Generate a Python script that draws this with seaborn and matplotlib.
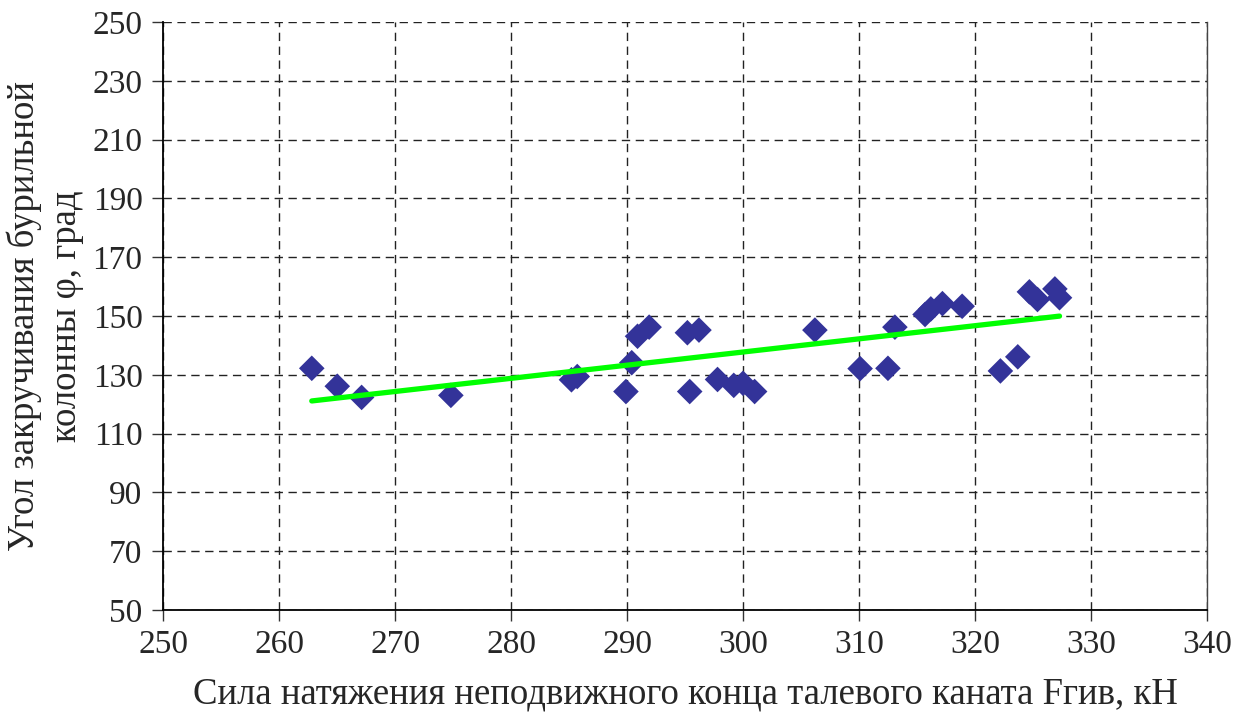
import seaborn as sns
import matplotlib.pyplot as plt
import pandas as pd

# Data
force_kn = [262.8, 265.0, 267.1, 274.8, 285.2, 285.7, 289.9, 290.4, 290.9, 291.9,
            295.2, 296.2, 295.4, 297.8, 299.2, 300.0, 301.0, 306.2, 310.1, 312.5,
            313.1, 315.7, 316.2, 317.2, 318.9, 322.2, 323.7, 324.7, 325.4, 326.9,
            327.3]
angle_deg = [132.2, 126.1, 122.3, 123.0, 128.3, 129.4, 124.3, 134.1, 143.1, 146.2,
             144.3, 145.2, 124.3, 128.4, 126.4, 127.1, 124.3, 145.2, 132.1, 132.2,
             146.2, 150.5, 152.4, 154.2, 153.3, 131.3, 136.1, 158.2, 155.6, 159.2,
             156.2]

x_ticks = list(range(250, 341, 10))
y_ticks = list(range(50, 251, 20))

x_label = "Сила натяжения неподвижного конца талевого каната Fгив, кН"
y_label = "Угол закручивания бурильной\nколонны φ, град"

df = pd.DataFrame({"force": force_kn, "angle": angle_deg})

sns.set_style("white")
plt.rcParams["font.family"] = ["Liberation Serif", "DejaVu Serif"]

fig = plt.figure(figsize=(12.5, 7.2), dpi=100)
ax = fig.add_axes([0.1307, 0.1528, 0.8347, 0.8167])

sns.regplot(
    data=df, x="force", y="angle", ax=ax, ci=None, marker="D",
    scatter_kws={"s": 170, "color": "#333399", "alpha": 1.0,
                 "edgecolors": "none", "zorder": 3},
    line_kws={"color": "#00ff00", "linewidth": 3.8, "zorder": 4},
)

ax.set_xlim(250, 340)
ax.set_ylim(50, 250)
ax.set_xticks(x_ticks)
ax.set_yticks(y_ticks)
ax.grid(True, color="#222222", linestyle=(0, (6, 4)), linewidth=1.0)
ax.set_axisbelow(True)

for side in ["left", "bottom"]:
    ax.spines[side].set_color("black")
    ax.spines[side].set_linewidth(1.3)
ax.spines["right"].set_color("#444444")
ax.spines["right"].set_linewidth(1.0)
ax.spines["top"].set_visible(False)

ax.tick_params(axis="both", direction="out", length=8, width=1.0, color="#333333",
               labelsize=24, left=True, bottom=True, right=False, top=False)
ax.tick_params(axis="x", pad=6)
ax.tick_params(axis="y", pad=7)

ax.set_xlabel(x_label, fontsize=26.5, labelpad=12)
ax.set_ylabel(y_label, fontsize=26.5, labelpad=6, linespacing=1.3)

fig.savefig("out.png", dpi=100)
